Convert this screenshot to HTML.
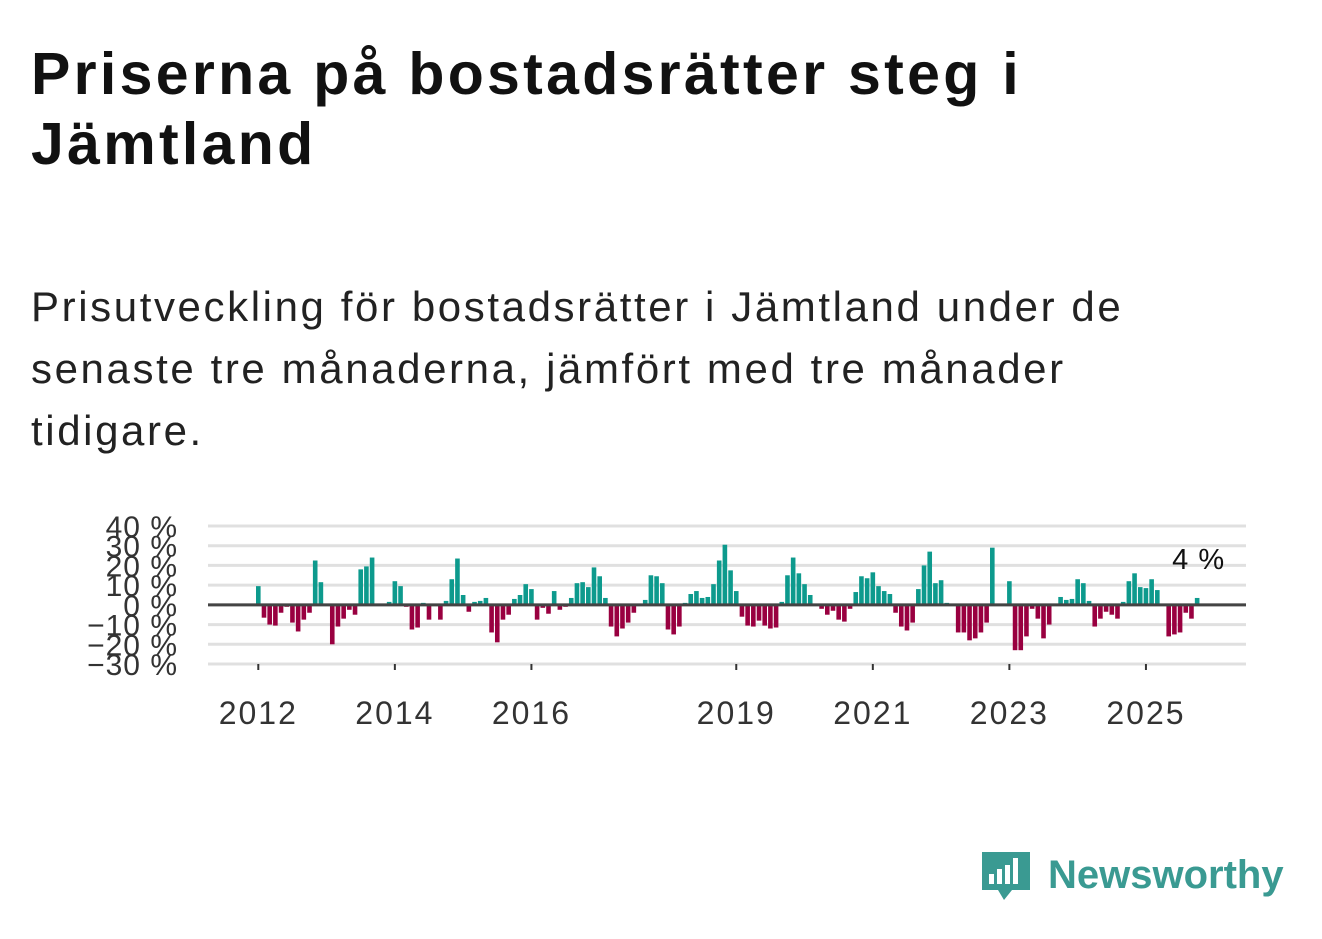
<!DOCTYPE html>
<html><head><meta charset="utf-8">
<style>
body{margin:0;width:1322px;height:939px;background:#fff;font-family:"Liberation Sans",sans-serif;overflow:hidden;position:relative}
h1{position:absolute;left:31px;top:39px;margin:0;font-size:59px;line-height:70px;font-weight:bold;color:#111;letter-spacing:3.3px;white-space:nowrap}
p{position:absolute;left:31px;top:276px;margin:0;font-size:42px;line-height:62px;color:#222;letter-spacing:2.6px;white-space:nowrap}
#chart{position:absolute;left:0;top:0}
#logo{position:absolute;left:980px;top:848px}
</style></head><body>
<h1>Priserna på bostadsrätter steg i<br>Jämtland</h1>
<p>Prisutveckling för bostadsrätter i Jämtland under de<br>senaste tre månaderna, jämfört med tre månader<br>tidigare.</p>
<svg id="chart" width="1322" height="939"></svg>
<svg id="logo" width="320" height="65">
<path d="M2 4 h48 v38 h-18 l-8 10 l-6 -10 h-16 z" fill="#3a9a92"/>
<rect x="9" y="26" width="5" height="10" fill="#fff"/><rect x="17" y="21" width="5" height="15" fill="#fff"/><rect x="25" y="17" width="5" height="19" fill="#fff"/><rect x="33" y="10" width="5" height="26" fill="#fff"/>
<text x="68" y="40" font-size="40" font-weight="bold" fill="#3a9a92" font-family="Liberation Sans, sans-serif">Newsworthy</text>
</svg>
<script>
const values=[9.5,-6.5,-10,-10.5,-4,-1,-9,-13.5,-7.5,-4,22.5,11.5,
0,-20,-11,-7,-2.5,-5,18,19.5,24,0,0,1.5,
12,9.5,-1,-12.5,-11.5,1,-7.5,0,-7.5,2,13,23.5,
5,-3.5,1.5,2,3.5,-14,-19,-7.5,-5,3,5,10.5,
8,-7.5,-1.5,-4.5,7,-2.5,-1,3.5,11,11.5,9,19,
14.5,3.5,-11,-16,-12,-9,-4,0,2.5,15,14.5,11,
-12.5,-15,-11,1,5.5,7,3.5,4,10.5,22.5,30.5,17.5,
7,-6,-10.5,-11,-8,-10.5,-12,-11.5,1.5,15,24,16,
10.5,5,0,-2,-5,-3,-7.5,-8.5,-2,6.5,14.5,13.5,
16.5,9.5,7,5.5,-4,-11,-13,-9,8,20,27,11,
12.5,1,0,-14,-14,-18,-17,-14,-9,29,0,0,
12,-23,-23,-16,-2,-7,-17,-10,0,4,2.5,3,
13,11,2,-11,-7,-3.5,-5,-7,1.5,12,16,9,
8.5,13,7.5,0,-16,-15,-14,-4,-7,3.5];
const yTicks=[40,30,20,10,0,-10,-20,-30];
const yTickLabels=["40 %","30 %","20 %","10 %","0 %","−10 %","−20 %","−30 %"];
const xTickYears=[2012,2014,2016,2019,2021,2023,2025];
const lastLabel="4 %";
const NS="http://www.w3.org/2000/svg";
const svg=document.getElementById('chart');
const x0=208,x1=1246,yTop=526,yBot=664;
const y=v=>yTop+(40-v)*(yBot-yTop)/70;
const startX=258.3,mw=5.69;
const x=i=>startX+i*mw;
function mk(t,a){const e=document.createElementNS(NS,t);for(const k in a)e.setAttribute(k,a[k]);svg.appendChild(e);return e;}
yTicks.forEach((v,i)=>{
 const g=mk('line',{x1:x0,x2:x1,y1:y(v),y2:y(v),stroke:'#e0e0e0','stroke-width':3});
 
 
 const t=mk('text',{x:178,y:y(v)+11,'text-anchor':'end','font-size':30,'letter-spacing':1,fill:'#333','font-family':'Liberation Sans, sans-serif'});
 t.textContent=yTickLabels[i];
 
 
});
values.forEach((v,i)=>{
 const r=mk('rect',{x:x(i)-2.3,width:4.6,y:Math.min(y(v),y(0)),height:Math.abs(y(v)-y(0)),fill:v>=0?'#0d9a8d':'#990040'});
 
 
});
const z=mk('line',{x1:x0,x2:x1,y1:y(0),y2:y(0),stroke:'#444','stroke-width':3});


xTickYears.forEach(yr=>{
 const xx=x((yr-2012)*12);
 const tk=mk('line',{x1:xx,x2:xx,y1:yBot,y2:yBot+6,stroke:'#333','stroke-width':2});
 
 
 const t=mk('text',{x:xx,y:724,'text-anchor':'middle','font-size':32,'letter-spacing':2,fill:'#333','font-family':'Liberation Sans, sans-serif'});
 t.textContent=yr;
 
 
});
const li=values.length-1;
const lab=mk('text',{x:x(li)+28,y:y(values[li])-29,'text-anchor':'end','font-size':29,'letter-spacing':1,fill:'#111','font-family':'Liberation Sans, sans-serif'});
lab.textContent=lastLabel;


</script>
</body></html>
